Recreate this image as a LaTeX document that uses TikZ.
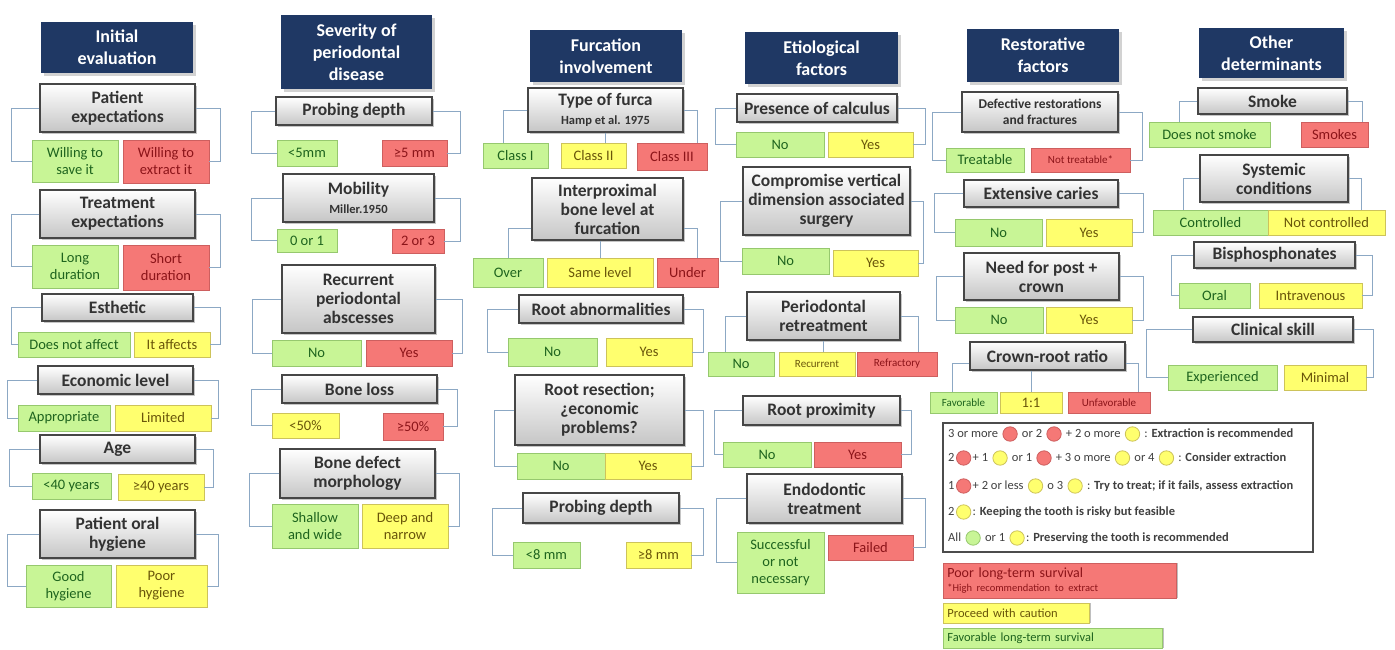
\documentclass[tikz,border=0pt]{standalone}
\usepackage{fontspec}
\setmainfont{Carlito}
\usetikzlibrary{positioning,shadows}

\definecolor{navy}{RGB}{31,56,100}
\definecolor{linkblue}{RGB}{140,168,196}
\definecolor{goodfill}{RGB}{200,245,150}
\definecolor{gooddraw}{RGB}{150,200,110}
\definecolor{goodtext}{RGB}{30,100,30}
\definecolor{fairfill}{RGB}{255,255,110}
\definecolor{fairdraw}{RGB}{205,195,90}
\definecolor{fairtext}{RGB}{105,85,10}
\definecolor{poorfill}{RGB}{245,120,118}
\definecolor{poordraw}{RGB}{205,95,95}
\definecolor{poortext}{RGB}{140,20,25}

\newcommand{\ball}[2]{\hspace{1.5pt}\tikz[baseline=-0.6ex]\draw[fill=#1,draw=#2,line width=0.8pt] (0,0) circle (7.2pt);\hspace{1.5pt}}
\newcommand{\redball}{\ball{poorfill}{poordraw}}
\newcommand{\yelball}{\ball{fairfill}{fairdraw}}
\newcommand{\grnball}{\ball{goodfill}{gooddraw}}

\begin{document}
\begin{tikzpicture}[x=1pt, y=-1pt,
        sz/.style 2 args = {minimum width=#1, minimum height=#2},
        head/.style = {rectangle, fill=navy, text=white, align=center, inner sep=1pt,
                       font=\fontsize{18}{22}\selectfont\bfseries,
                       drop shadow={opacity=0.35, shadow xshift=3pt, shadow yshift=-3pt}},
        crit/.style = {rectangle, top color=white, bottom color=gray!45, draw=gray!55!black,
                       line width=1.2pt, text=black!80, align=center, inner sep=1pt,
                       font=\fontsize{17.5}{19}\selectfont\bfseries,
                       drop shadow={opacity=0.45, shadow xshift=2pt, shadow yshift=-2pt}},
         opt/.style = {rectangle, line width=0.8pt, align=center, inner sep=1pt,
                       font=\fontsize{14.5}{17}\selectfont},
        good/.style = {opt, fill=goodfill, draw=gooddraw, text=goodtext},
        fair/.style = {opt, fill=fairfill, draw=fairdraw, text=fairtext},
        poor/.style = {opt, fill=poorfill, draw=poordraw, text=poortext},
   smalltext/.style = {font=\fontsize{11}{13}\selectfont},
      lgtext/.style = {inner sep=0pt, text=black!75, font=\fontsize{12.5}{14}\selectfont},
        link/.style = {draw=linkblue, line width=0.9pt}
                        ]
\useasboundingbox (0,0) rectangle (1395,650);
\fill[white] (0,0) rectangle (1395,650);

% initial evaluation
\node[head, sz={152}{51}] (h1) at (117,47.5) {Initial\\evaluation};
\node[crit, sz={155}{48}] (c1a) at (117.5,108) {Patient\\expectations};
\node[good, sz={86}{42}] (o1a1) at (75,161) {Willing to\\save it};
\node[poor, sz={86}{43}] (o1a2) at (166,161.5) {Willing to\\extract it};
\node[crit, sz={155}{48}] (c1b) at (117.5,214) {Treatment\\expectations};
\node[good, sz={86}{43}] (o1b1) at (75,266.5) {Long\\duration};
\node[poor, sz={86}{45}] (o1b2) at (166,267.5) {Short\\duration};
\node[crit, sz={151}{27}] (c1c) at (117.5,307.5) {Esthetic};
\node[good, sz={112}{25}] (o1c1) at (74,344.5) {Does not affect};
\node[fair, sz={76}{25}] (o1c2) at (172,344.5) {It affects};
\node[crit, sz={155}{28}] (c1d) at (115.5,380) {Economic level};
\node[good, sz={92}{26}] (o1d1) at (64,418) {Appropriate};
\node[fair, sz={96}{26}] (o1d2) at (163,418) {Limited};
\node[crit, sz={155}{28}] (c1e) at (117.5,449) {Age};
\node[good, sz={79}{26}] (o1e1) at (71.5,486) {<40 years};
\node[fair, sz={86}{26}] (o1e2) at (161,487) {≥40 years};
\node[crit, sz={155}{48}] (c1f) at (117.5,534) {Patient oral\\hygiene};
\node[good, sz={85}{42}] (o1f1) at (68.5,586) {Good\\hygiene};
\node[fair, sz={91}{42}] (o1f2) at (161.5,586) {Poor\\hygiene};
\draw[link] (c1a.west) -- ++(-28,0) |- (o1a1.west);
\draw[link] (c1a.east) -- ++(25,0) |- (o1a2.east);
\draw[link] (c1b.west) -- ++(-28,0) |- (o1b1.west);
\draw[link] (c1b.east) -- ++(25,0) |- (o1b2.east);
\draw[link] (c1c.west) -- ++(-30,0) |- (o1c1.west);
\draw[link] (c1c.east) -- ++(27,0) |- (o1c2.east);
\draw[link] (c1d.west) -- ++(-30,0) |- (o1d1.west);
\draw[link] (c1d.east) -- ++(25,0) |- (o1d2.east);
\draw[link] (c1e.west) -- ++(-30,0) |- (o1e1.west);
\draw[link] (c1e.east) -- ++(18,0) |- (o1e2.east);
\draw[link] (c1f.west) -- ++(-32,0) |- (o1f1.west);
\draw[link] (c1f.east) -- ++(23,0) |- (o1f2.east);

% severity of periodontal disease
\node[head, sz={151}{74}] (h2) at (356.5,52) {Severity of\\periodontal\\disease};
\node[crit, sz={156}{28}] (c2a) at (354,111) {Probing depth};
\node[good, sz={60}{26}] (o2a1) at (307,153) {<5mm};
\node[poor, sz={65}{26}] (o2a2) at (414.5,153) {≥5 mm};
\node[crit, sz={151}{48}] (c2b) at (358.5,198) {Mobility\\{\fontsize{12.5}{14}\selectfont Miller.1950}};
\node[good, sz={60}{23}] (o2b1) at (307,240.5) {0 or 1};
\node[poor, sz={52}{24}] (o2b2) at (418,241) {2 or 3};
\node[crit, sz={153}{68}] (c2c) at (358.5,299) {Recurrent\\periodontal\\abscesses};
\node[good, sz={89}{26}] (o2c1) at (316.5,353) {No};
\node[poor, sz={86}{26}] (o2c2) at (409,353) {Yes};
\node[crit, sz={155}{28}] (c2d) at (359.5,389) {Bone loss};
\node[fair, sz={67}{25}] (o2d1) at (305.5,425.5) {<50\%};
\node[poor, sz={60}{27}] (o2d2) at (413,426.5) {≥50\%};
\node[crit, sz={155}{49}] (c2e) at (357.5,473.5) {Bone defect\\morphology};
\node[good, sz={86}{44}] (o2e1) at (315,526) {Shallow\\and wide};
\node[fair, sz={86}{44}] (o2e2) at (405,526) {Deep and\\narrow};
\draw[link] (c2a.west) -- ++(-24,0) |- (o2a1.west);
\draw[link] (c2a.east) -- ++(28,0) |- (o2a2.east);
\draw[link] (c2b.west) -- ++(-31,0) |- (o2b1.west);
\draw[link] (c2b.east) -- ++(26,0) |- (o2b2.east);
\draw[link] (c2c.west) -- ++(-29,0) |- (o2c1.west);
\draw[link] (c2c.east) -- ++(27,0) |- (o2c2.east);
\draw[link] (c2d.west) -- ++(-30,0) |- (o2d1.west);
\draw[link] (c2d.east) -- ++(20,0) |- (o2d2.east);
\draw[link] (c2e.west) -- ++(-30,0) |- (o2e1.west);
\draw[link] (c2e.east) -- ++(24,0) |- (o2e2.east);

% furcation involvement
\node[head, sz={152}{52}] (h3) at (606,56) {Furcation\\involvement};
\node[crit, sz={155}{44}] (c3a) at (605.5,110) {Type of furca\\{\fontsize{12.5}{14}\selectfont Hamp et al. 1975}};
\node[good, sz={65}{25}] (o3a1) at (515.5,155.5) {Class I};
\node[fair, sz={65}{25}] (o3a2) at (593.5,155.5) {Class II};
\node[poor, sz={70}{27}] (o3a3) at (672,156.5) {Class III};
\node[crit, sz={151}{62}] (c3b) at (607.5,209) {Interproximal\\bone level at\\furcation};
\node[good, sz={70}{29}] (o3b1) at (508,272.5) {Over};
\node[fair, sz={106}{29}] (o3b2) at (600,272.5) {Same level};
\node[poor, sz={61}{29}] (o3b3) at (687.5,272.5) {Under};
\node[crit, sz={164}{28}] (c3c) at (601,309) {Root abnormalities};
\node[good, sz={89}{28}] (o3c1) at (552.5,352) {No};
\node[fair, sz={86}{28}] (o3c2) at (649,352) {Yes};
\node[crit, sz={169}{70}] (c3d) at (599.5,410) {Root resection;\\¿economic\\problems?};
\node[good, sz={88}{26}] (o3d1) at (561,466) {No};
\node[fair, sz={86}{26}] (o3d2) at (648,466) {Yes};
\node[crit, sz={156}{30}] (c3e) at (601,508) {Probing depth};
\node[good, sz={67}{26}] (o3e1) at (546.5,555) {<8 mm};
\node[fair, sz={65}{26}] (o3e2) at (658.5,555) {≥8 mm};
\draw[link] (c3a.west) -| ([xshift=-12pt]o3a1.north);
\draw[link] (c3a.south) -- (c3a.south |- o3a2.north);
\draw[link] (c3a.east) -| ([xshift=25pt]o3a3.north);
\draw[link] ([yshift=-19pt]c3b.west) -| (o3b1.north);
\draw[link] (c3b.south -| o3b2.north) -- (o3b2.north);
\draw[link] ([yshift=-19pt]c3b.east) -| ([xshift=10pt]o3b3.north);
\draw[link] (c3c.west) -- ++(-31,0) |- (o3c1.west);
\draw[link] (c3c.east) -- ++(20,0) |- (o3c2.east);
\draw[link] (c3d.west) -- ++(-20,0) |- (o3d1.west);
\draw[link] (c3d.east) -- ++(19,0) |- (o3d2.east);
\draw[link] (c3e.west) -- ++(-30,0) |- (o3e1.west);
\draw[link] (c3e.east) -- ++(24,0) |- (o3e2.east);

% etiological factors
\node[head, sz={153}{52}] (h4) at (821.5,58) {Etiological\\factors};
\node[crit, sz={160}{28}] (c4a) at (817,108) {Presence of calculus};
\node[good, sz={88}{25}] (o4a1) at (780,144.5) {No};
\node[fair, sz={85}{25}] (o4a2) at (870.5,144.5) {Yes};
\node[crit, sz={167}{68}] (c4b) at (826.5,201) {Compromise vertical\\dimension associated\\surgery};
\node[good, sz={87}{26}] (o4b1) at (785.5,261) {No};
\node[fair, sz={85}{26}] (o4b2) at (875.5,263) {Yes};
\node[crit, sz={153}{48}] (c4c) at (823.5,316) {Periodontal\\retreatment};
\node[good, sz={66}{24}] (o4c1) at (741,364) {No};
\node[fair, smalltext, sz={76}{24}] (o4c2) at (817,364) {Recurrent};
\node[poor, smalltext, sz={80}{24}] (o4c3) at (897,364) {Refractory};
\node[crit, sz={157}{29}] (c4d) at (821.5,410.5) {Root proximity};
\node[good, sz={88}{25}] (o4d1) at (767,454.5) {No};
\node[poor, sz={87}{25}] (o4d2) at (857.5,454.5) {Yes};
\node[crit, sz={155}{49}] (c4e) at (824.5,498.5) {Endodontic\\treatment};
\node[good, sz={87}{61}] (o4e1) at (780.5,562.5) {Successful\\or not\\necessary};
\node[poor, sz={85}{25}] (o4e2) at (870.5,547.5) {Failed};
\draw[link] (c4a.west) -- ++(-21,0) |- (o4a1.west);
\draw[link] (c4a.east) -- ++(28,0) |- (o4a2.east);
\draw[link] (c4b.west) -- ++(-22,0) |- (o4b1.west);
\draw[link] (c4b.east) -- ++(13,0) |- (o4b2.east);
\draw[link] (c4c.west) -| ([xshift=-16pt]o4c1.north);
\draw[link] (c4c.south) -- (c4c.south |- o4c2.north);
\draw[link] (c4c.east) -| ([xshift=21pt]o4c3.north);
\draw[link] (c4d.west) -- ++(-28,0) |- (o4d1.west);
\draw[link] (c4d.east) -- ++(11,0) |- (o4d2.east);
\draw[link] (c4e.west) -- ++(-30,0) |- (o4e1.west);
\draw[link] (c4e.east) -- ++(23,0) |- (o4e2.east);

% restorative factors
\node[head, sz={152}{53}] (h5) at (1043,55.5) {Restorative\\factors};
\node[crit, sz={156}{40}, font=\fontsize{13.5}{16}\selectfont\bfseries] (c5a) at (1040,112) {Defective restorations\\and fractures};
\node[good, sz={78}{24}] (o5a1) at (985,160) {Treatable};
\node[poor, smalltext, sz={99}{24}] (o5a2) at (1080.5,160) {Not treatable*};
\node[crit, sz={154}{27}] (c5b) at (1041,193.5) {Extensive caries};
\node[good, sz={87}{27}] (o5b1) at (998.5,232.5) {No};
\node[fair, sz={86}{27}] (o5b2) at (1089,232.5) {Yes};
\node[crit, sz={155}{47}] (c5c) at (1041.5,276.5) {Need for post +\\crown};
\node[good, sz={88}{26}] (o5c1) at (999,320) {No};
\node[fair, sz={86}{26}] (o5c2) at (1089,320) {Yes};
\node[crit, sz={155}{28}] (c5d) at (1047.5,356) {Crown-root ratio};
\node[good, smalltext, sz={67}{21}] (o5d1) at (963.5,402.5) {Favorable};
\node[fair, sz={62}{21}] (o5d2) at (1031,402.5) {1:1};
\node[poor, smalltext, sz={82}{21}] (o5d3) at (1109,402.5) {Unfavorable};
\draw[link] (c5a.west) -- ++(-29,0) |- (o5a1.west);
\draw[link] (c5a.east) -- ++(24,0) |- (o5a2.east);
\draw[link] (c5b.west) -- ++(-29,0) |- (o5b1.west);
\draw[link] (c5b.east) -- ++(25,0) |- (o5b2.east);
\draw[link] (c5c.west) -- ++(-27,0) |- (o5c1.west);
\draw[link] (c5c.east) -- ++(24,0) |- (o5c2.east);
\draw[link] ([yshift=-7pt]c5d.west) -| ([xshift=-11pt]o5d1.north);
\draw[link] (c5d.south -| o5d2.north) -- (o5d2.north);
\draw[link] ([yshift=-7pt]c5d.east) -| ([xshift=29pt]o5d3.north);

% other determinants
\node[head, sz={145}{50}] (h6) at (1271.5,53) {Other\\determinants};
\node[crit, sz={149}{26}] (c6a) at (1272.5,101) {Smoke};
\node[good, sz={121}{25}] (o6a1) at (1209.5,134.5) {Does not smoke};
\node[poor, sz={67}{25}] (o6a2) at (1334.5,134.5) {Smokes};
\node[crit, sz={148}{47}] (c6b) at (1274,178.5) {Systemic\\conditions};
\node[good, sz={115}{25}] (o6b1) at (1210.5,222.5) {Controlled};
\node[fair, sz={117}{25}] (o6b2) at (1326.5,222.5) {Not controlled};
\node[crit, sz={161}{26}] (c6c) at (1274.5,255) {Bisphosphonates};
\node[good, sz={71}{25}] (o6c1) at (1214.5,295.5) {Oral};
\node[fair, sz={103}{25}] (o6c2) at (1310.5,295.5) {Intravenous};
\node[crit, sz={160}{25}] (c6d) at (1273,329.5) {Clinical skill};
\node[good, sz={109}{25}] (o6d1) at (1222.5,377.5) {Experienced};
\node[fair, sz={82}{25}] (o6d2) at (1325,377.5) {Minimal};
\draw[link] (c6a.west) -| ([xshift=-30pt]o6a1.north);
\draw[link] (c6a.east) -| ([xshift=28pt]o6a2.north);
\draw[link] (c6b.west) -| ([xshift=-27pt]o6b1.north);
\draw[link] (c6b.east) -| ([xshift=35pt]o6b2.north);
\draw[link] (c6c.west) -- ++(-22,0) |- (o6c1.west);
\draw[link] (c6c.east) -- ++(17,0) |- (o6c2.east);
\draw[link] (c6d.west) -- ++(-46,0) |- (o6d1.west);
\draw[link] (c6d.east) -- ++(20,0) |- (o6d2.east);

% legend
\node[draw=gray!60!black, line width=1.2pt, sz={370}{129}] (legend) at (1128,487.5) {};
\node[lgtext, anchor=west] (l1) at (948,434) {3 or more \redball{} or 2 \redball{} + 2 o more \yelball{} : \textbf{Extraction is recommended}};
\node[lgtext, anchor=west] (l2) at (948,458) {2\redball{}+ 1 \yelball{} or 1 \redball{} + 3 o more \yelball{} or 4 \yelball{} : \textbf{Consider extraction}};
\node[lgtext, anchor=west] (l3) at (948,486) {1\redball{}+ 2 or less \yelball{} o 3 \yelball{} : \textbf{Try to treat; if it fails, assess extraction}};
\node[lgtext, anchor=west] (l4) at (948,512) {2\yelball{}: \textbf{Keeping the tooth is risky but feasible}};
\node[lgtext, anchor=west] (l5) at (948,538) {All \grnball{} or 1 \yelball{}: \textbf{Preserving the tooth is recommended}};
\node[poor, anchor=west, align=left, inner xsep=4pt, text width=225, sz={233}{35},
      font=\fontsize{14}{14.5}\selectfont,
      drop shadow={opacity=0.5, shadow xshift=2pt, shadow yshift=0pt}] (bpoor) at (943,580.5)
      {Poor long-term survival\\{\fontsize{10.5}{11.5}\selectfont *High recommendation to extract}};
\node[fair, anchor=west, align=left, inner xsep=4pt, text width=138, sz={146}{20},
      font=\fontsize{12.5}{14}\selectfont,
      drop shadow={opacity=0.5, shadow xshift=2pt, shadow yshift=0pt}] (bfair) at (943,613)
      {Proceed with caution};
\node[good, anchor=west, align=left, inner xsep=4pt, text width=211, sz={219}{20},
      font=\fontsize{12.5}{14}\selectfont,
      drop shadow={opacity=0.5, shadow xshift=2pt, shadow yshift=0pt}] (bgood) at (943,638)
      {Favorable long-term survival};
\end{tikzpicture}
\end{document}
